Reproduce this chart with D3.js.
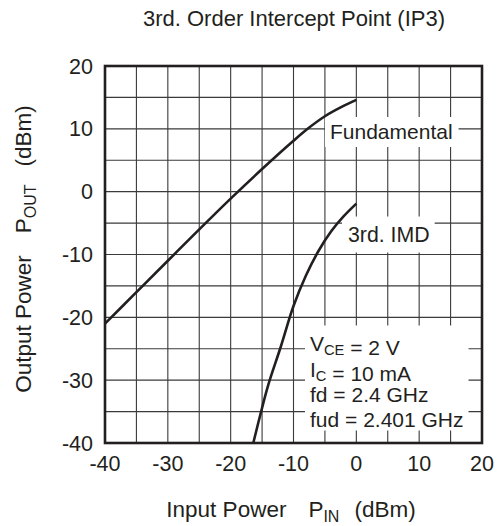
<!DOCTYPE html>
<html>
<head>
<meta charset="utf-8">
<script src="https://cdn.jsdelivr.net/npm/d3@7"></script>
<style>
  body { margin: 0; background: #fff; }
  text { font-family: "Liberation Sans", Arial, Helvetica, sans-serif; fill: #231f20; white-space: pre; }
</style>
</head>
<body>
<svg id="chart" width="501" height="526"></svg>
<script>
// Axis ticks (dBm)
const xTicks = [-40, -30, -20, -10, 0, 10, 20];
const yTicks = [20, 10, 0, -10, -20, -30, -40];
const gridStep = 5;

// Fundamental output vs. input power
const fundIn  = [-40, -35, -30, -25, -20, -15, -10, -7.5, -5, -2.5, 0];
const fundOut = [-21, -16, -11, -6, -1.1, 3.6, 8.1, 10.2, 12.0, 13.4, 14.6];

// 3rd-order intermodulation product vs. input power
const imdIn  = [-16.4, -15, -14, -12, -10, -8, -6, -4, -2, 0];
const imdOut = [-40, -34.4, -30.7, -24.6, -18.2, -13.3, -9.4, -6.3, -3.9, -1.9];

const svg = d3.select("#chart");
const ink = "#231f20";
const L = 105, R = 482, T = 66, B = 443;

const x = d3.scaleLinear().domain([-40, 20]).range([L, R]);
const y = d3.scaleLinear().domain([-40, 20]).range([B, T]);

// Title
svg.append("text")
  .attr("x", 294).attr("y", 26)
  .attr("text-anchor", "middle")
  .attr("font-size", 22)
  .text("3rd. Order Intercept Point (IP3)");

// Grid every 5 dB
const gridVals = d3.range(-40, 20.01, gridStep);
const grid = svg.append("g").attr("stroke", "#3a3a3a").attr("stroke-width", 1.1);
grid.selectAll("line.v").data(gridVals).join("line")
  .attr("x1", d => x(d)).attr("x2", d => x(d))
  .attr("y1", T).attr("y2", B);
grid.selectAll("line.h").data(gridVals).join("line")
  .attr("y1", d => y(d)).attr("y2", d => y(d))
  .attr("x1", L).attr("x2", R);

// Labels inside the plot sit on white boxes that blank the grid
const labelLayer = svg.append("g");
function boxedText(lines, x0, baselines, size, pad) {
  const g = labelLayer.append("g");
  const rect = g.append("rect").attr("fill", "#fff");
  lines.forEach((parts, i) => {
    const t = g.append("text").attr("x", x0).attr("y", baselines[i]).attr("font-size", size);
    parts.forEach(p => {
      if (p.sub) {
        t.append("tspan").attr("font-size", size * 0.7).attr("dy", 4).text(p.sub);
        t.append("tspan").attr("dy", -4).text("");
      } else {
        t.append("tspan").text(p.t);
      }
    });
  });
  const bb = g.node().getBBox();
  rect.attr("x", bb.x - pad[3]).attr("y", bb.y - pad[0])
    .attr("width", bb.width + pad[1] + pad[3])
    .attr("height", bb.height + pad[0] + pad[2]);
}

boxedText([[{t: "Fundamental"}]], 330, [139], 21, [3, 6, 4, 5]);
boxedText([[{t: "3rd. IMD"}]], 348, [241.5], 21.3, [6, 5, 6, 6]);
boxedText([
  [{t: "V"}, {sub: "CE"}, {t: " = 2 V"}],
  [{t: "I"}, {sub: "C"}, {t: " = 10 mA"}],
  [{t: "fd = 2.4 GHz"}],
  [{t: "fud = 2.401 GHz"}]
], 310, [350.5, 376.5, 401.5, 426.5], 21, [6, 5, 0, 5]);

// Curves
const line = d3.line().x(d => x(d[0])).y(d => y(d[1])).curve(d3.curveCatmullRom.alpha(0.5));
const curves = svg.append("g").attr("fill", "none").attr("stroke", ink)
  .attr("stroke-width", 2.6).attr("stroke-linecap", "butt");
curves.append("path").attr("d", line(d3.zip(fundIn, fundOut)));
curves.append("path").attr("d", line(d3.zip(imdIn, imdOut)));

// Frame
svg.append("rect")
  .attr("x", L).attr("y", T).attr("width", R - L).attr("height", B - T)
  .attr("fill", "none").attr("stroke", ink).attr("stroke-width", 2.6);

// Tick labels
svg.append("g").selectAll("text").data(xTicks).join("text")
  .attr("x", d => x(d)).attr("y", B + 28)
  .attr("text-anchor", "middle").attr("font-size", 21.5)
  .text(d => d);
svg.append("g").selectAll("text").data(yTicks).join("text")
  .attr("x", 93).attr("y", d => y(d) + 7.5)
  .attr("text-anchor", "end").attr("font-size", 21.5)
  .text(d => d);

// Axis titles: main text, gap, symbol with subscript, gap, unit
function axisTitle(t, main, sym, sub, unit, gap1, gap2) {
  t.attr("text-anchor", "middle").attr("font-size", 22.5);
  t.append("tspan").text(main);
  t.append("tspan").attr("dx", gap1).text(sym);
  t.append("tspan").attr("font-size", 16).attr("dy", 5).text(sub);
  t.append("tspan").attr("dy", -5).attr("dx", gap2).text(unit);
}
axisTitle(svg.append("text").attr("x", 291).attr("y", 516.5),
  "Input Power", "P", "IN", "(dBm)", 22, 15);
axisTitle(svg.append("text").attr("transform", "translate(31,249) rotate(-90)"),
  "Output Power", "P", "OUT", "(dBm)", 22, 18);
</script>
</body>
</html>
